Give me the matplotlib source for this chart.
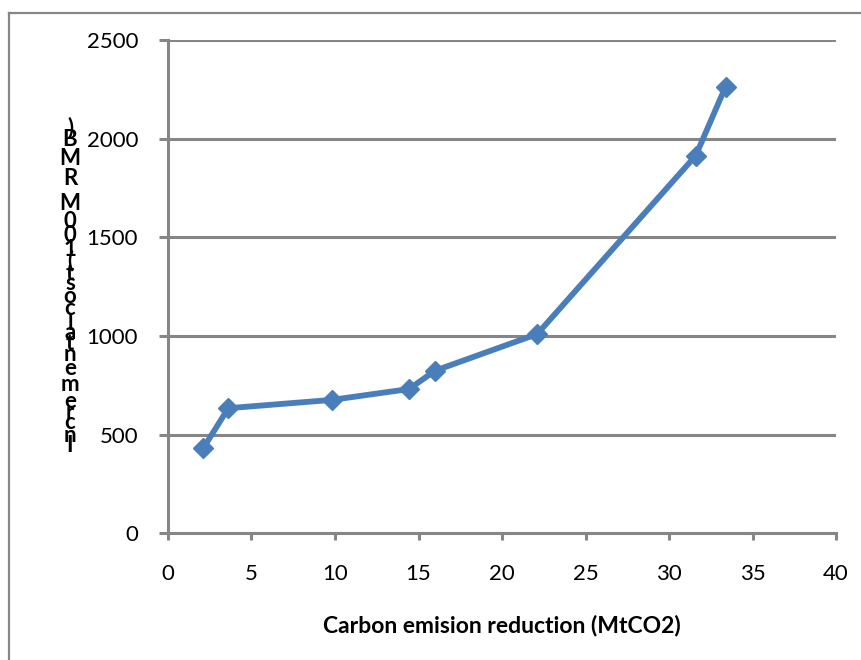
import matplotlib.pyplot as plt
from matplotlib.lines import Line2D
from matplotlib.font_manager import FontProperties
from matplotlib.textpath import TextToPath

# 减排量 (MtCO2) 与增量成本 (亿元)
reduction = [2.11, 3.61, 9.80, 14.43, 15.99, 22.11, 31.6, 33.39]
cost = [431, 634, 676, 731, 824, 1010, 1914, 2264]

x_ticks = [0, 5, 10, 15, 20, 25, 30, 35, 40]
y_ticks = [0, 500, 1000, 1500, 2000, 2500]

x_title = 'Carbon emision reduction (MtCO2)'
y_title = 'Incremental cost (100M RMB)'

LINE_BLUE = '#4A7EBB'
GRID_GRAY = '#868686'
FONTS = ['Lato', 'DejaVu Sans']


def draw_frame(fig):
    """图表区外框，只露出左边和上边"""
    w, h = fig.get_size_inches() * fig.dpi
    x0 = 9 / w
    y0 = 1 - 13 / h
    fig.add_artist(Line2D([x0, x0], [0, y0], color=GRID_GRAY, lw=1.6,
                          transform=fig.transFigure))
    fig.add_artist(Line2D([x0, 1], [y0, y0], color=GRID_GRAY, lw=1.6,
                          transform=fig.transFigure))


def draw_y_title(fig, text, size=16):
    """纵轴标题：字符按各自字宽从下往上竖排，字形不旋转"""
    w, h = fig.get_size_inches() * fig.dpi
    prop = FontProperties(family=FONTS, weight='bold', size=size)
    ttp = TextToPath()
    widths = [ttp.get_text_width_height_descent(ch, prop, ismath=False)[0]
              for ch in text]
    centers = []
    pos = 0
    for wd in widths:
        centers.append(pos + wd / 2)
        pos += wd
    top, bottom = 128, 446
    scale = (bottom - top) / (centers[-1] - centers[0])
    for ch, c in zip(text, centers):
        y_px = bottom - (c - centers[0]) * scale
        fig.text(70 / w, 1 - y_px / h, ch, ha='center', va='center',
                 fontproperties=prop)


def plot_cost(x, y):
    fig = plt.figure(figsize=(8.62, 6.6), dpi=100)
    ax = fig.add_axes([168 / 862, 1 - 533.3 / 660, 668 / 862, 493.3 / 660])

    ax.plot(x, y, color=LINE_BLUE, lw=4.2, marker='D', markersize=10,
            markerfacecolor=LINE_BLUE, markeredgecolor=LINE_BLUE, zorder=3,
            solid_joinstyle='round')

    ax.set_xlim(0, 40)
    ax.set_ylim(0, 2500)
    ax.set_xticks(x_ticks)
    ax.set_yticks(y_ticks)
    ax.set_xticklabels([str(t) for t in x_ticks])
    ax.set_yticklabels([str(t) for t in y_ticks])

    ax.grid(axis='y', color=GRID_GRAY, lw=2.2)
    ax.set_axisbelow(True)
    for side in ['top', 'right']:
        ax.spines[side].set_visible(False)
    for side in ['left', 'bottom']:
        ax.spines[side].set_color(GRID_GRAY)
        ax.spines[side].set_linewidth(2.2)

    ax.tick_params(axis='y', direction='out', length=6.5, width=2.2,
                   color=GRID_GRAY, pad=15, labelsize=16)
    ax.tick_params(axis='x', direction='out', length=5, width=2.2,
                   color=GRID_GRAY, pad=17, labelsize=16)
    for lab in ax.get_xticklabels() + ax.get_yticklabels():
        lab.set_family(FONTS)

    ax.set_xlabel(x_title, fontsize=16.5, fontweight='bold',
                  family=FONTS, labelpad=22)

    draw_y_title(fig, y_title)
    draw_frame(fig)
    return fig


if __name__ == '__main__':
    fig = plot_cost(reduction, cost)
    fig.savefig('out.png', dpi=100)
